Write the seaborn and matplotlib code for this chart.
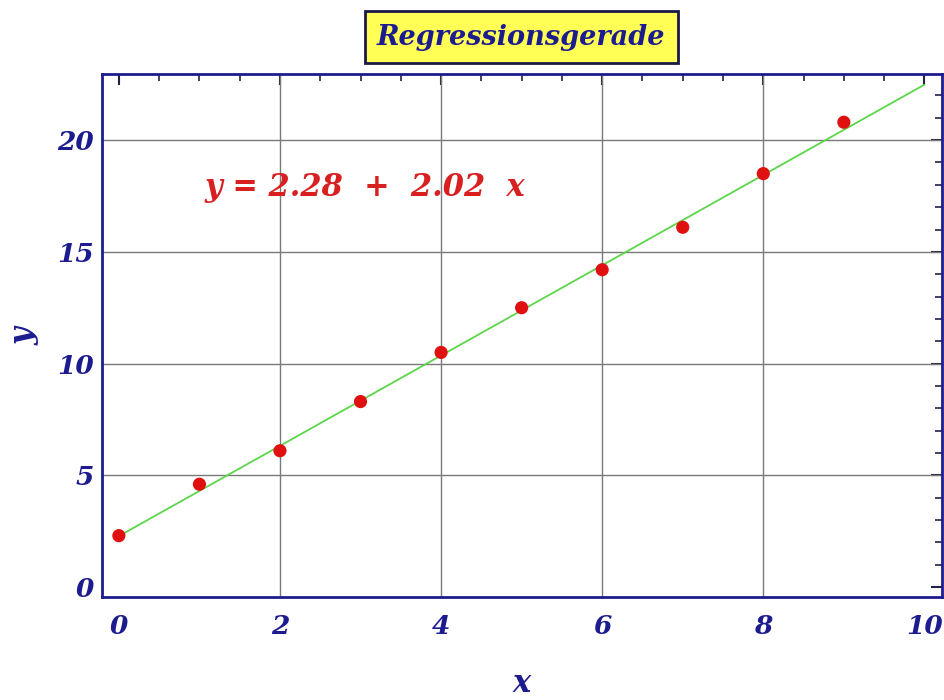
import numpy as np
import pandas as pd
import matplotlib
matplotlib.use("Agg")
import matplotlib.pyplot as plt
import seaborn as sns
from matplotlib.ticker import MultipleLocator

# Measured data
x_values = [0, 1, 2, 3, 4, 5, 6, 7, 8, 9]
y_values = [2.3, 4.6, 6.1, 8.3, 10.5, 12.5, 14.2, 16.1, 18.5, 20.8]

# Fitted regression coefficients
intercept = 2.28
slope = 2.02

x_ticks = [0, 2, 4, 6, 8, 10]
y_ticks = [0, 5, 10, 15, 20]

title = "Regressionsgerade"
equation = f"y = {intercept:.2f}  +  {slope:.2f}  x"

sns.set_theme(style="white")
plt.rcParams["font.family"] = ["DejaVu Serif"]

navy = "#1c1c8f"
df = pd.DataFrame({"x": x_values, "y": y_values})
line_x = np.array([0, 10])
line_df = pd.DataFrame({"x": line_x, "y": intercept + slope * line_x})

fig = plt.figure(figsize=(9.44, 7.0), dpi=100)
ax = fig.add_axes([0.108, 0.147, 0.89, 0.747])

sns.lineplot(data=line_df, x="x", y="y", ax=ax, color="#5cd64a", linewidth=1.3, zorder=3)
sns.scatterplot(data=df, x="x", y="y", ax=ax, color="#e01010", s=90, edgecolor="none", zorder=4)

ax.set_xlim(-0.21, 10.22)
ax.set_ylim(-0.45, 22.95)
ax.set_xticks(x_ticks)
ax.set_yticks(y_ticks)
ax.xaxis.set_minor_locator(MultipleLocator(0.5))
ax.yaxis.set_minor_locator(MultipleLocator(1))

# Grid lines at the interior major ticks
for gx in x_ticks[1:-1]:
    ax.axvline(gx, color="#7a7a7a", linewidth=1.0, zorder=1)
for gy in y_ticks[1:]:
    ax.axhline(gy, color="#7a7a7a", linewidth=1.0, zorder=1)

ax.tick_params(which="major", direction="in", length=8, width=1.5, color="#222244",
               top=True, right=True, labelsize=19, labelcolor=navy)
ax.tick_params(axis="x", which="major", pad=12)
ax.tick_params(axis="y", which="major", pad=6)
ax.tick_params(which="minor", direction="in", length=5, width=1.2, color="#222244",
               top=True, right=True)
for lab in ax.get_xticklabels() + ax.get_yticklabels():
    lab.set_fontweight("bold")
    lab.set_fontstyle("italic")

for sp in ax.spines.values():
    sp.set_color(navy)
    sp.set_linewidth(2)

ax.set_xlabel("x", fontsize=22, fontweight="bold", fontstyle="italic", color=navy,
              va="center")
ax.set_ylabel("y", fontsize=22, fontweight="bold", fontstyle="italic", color=navy,
              va="center")
ax.xaxis.set_label_coords(0.5, -0.165)
ax.yaxis.set_label_coords(-0.093, 0.5)

ax.text(1.07, 17.9, equation, fontsize=22, fontweight="bold", fontstyle="italic",
        color="#d82020", ha="left", va="center", zorder=5)

fig.text(0.552, 0.947, title, fontsize=19.5, fontweight="bold", fontstyle="italic",
         color=navy, ha="center", va="center",
         bbox=dict(boxstyle="square,pad=0.45", facecolor="#ffff55", edgecolor="#1a1a4a", linewidth=2))

fig.savefig("out.png", dpi=100, facecolor="white")
